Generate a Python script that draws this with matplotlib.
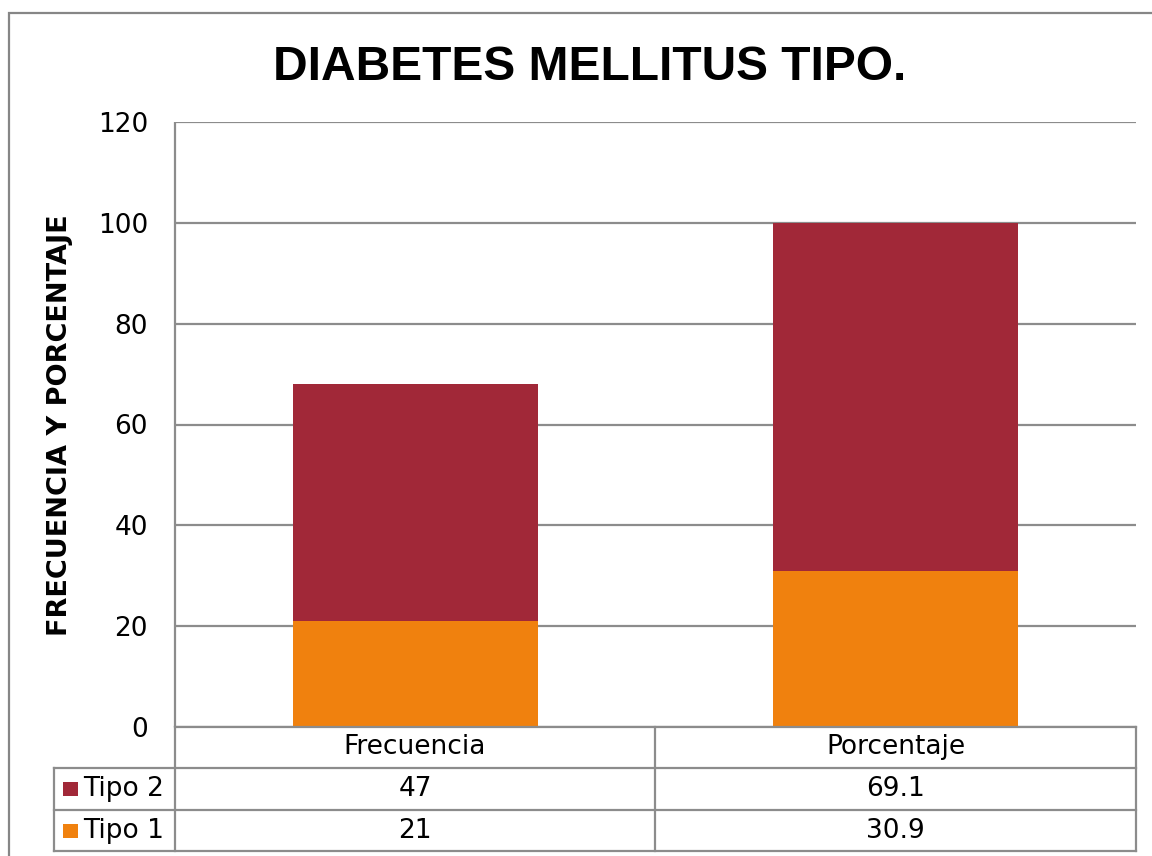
import matplotlib
matplotlib.use('Agg')
import matplotlib.pyplot as plt
from matplotlib.lines import Line2D
from matplotlib.patches import Rectangle

categories = ['Frecuencia', 'Porcentaje']
series_names = ['Tipo 1', 'Tipo 2']
tipo1 = [21, 30.9]
tipo2 = [47, 69.1]
yticks = [0, 20, 40, 60, 80, 100, 120]

c_tipo1 = '#F0810E'
c_tipo2 = '#A12838'
grid_c = '#8C8C8C'

W, H = 1152, 856
fig = plt.figure(figsize=(W / 100, H / 100), dpi=100)


def fx(px):
    return px / W


def fy(py):
    return 1 - py / H


def hline(y, x0, x1):
    fig.add_artist(Line2D([fx(x0), fx(x1)], [fy(y), fy(y)], color=grid_c, lw=1.6))


def vline(x, y0, y1):
    fig.add_artist(Line2D([fx(x), fx(x)], [fy(y0), fy(y1)], color=grid_c, lw=1.6))


# outer chart border (left and top visible only)
fig.add_artist(Rectangle((fx(9), fy(900)), fx(1200), fy(13) - fy(900),
                         fill=False, ec='#868686', lw=1.6))

# plot area
left, right, top, bottom = 175, 1136, 122, 727
ax = fig.add_axes([fx(left), fy(bottom), fx(right - left), fy(top) - fy(bottom)])
x = range(len(categories))
ax.bar(x, tipo1, width=0.51, color=c_tipo1, zorder=3)
ax.bar(x, tipo2, width=0.51, bottom=tipo1, color=c_tipo2, zorder=3)
ax.set_xlim(-0.5, 1.5)
ax.set_ylim(0, 120)
ax.set_yticks(yticks)
ax.set_yticklabels([str(t) for t in yticks], fontsize=19)
ax.tick_params(axis='y', length=0, pad=19.5)
ax.set_xticks([])
ax.yaxis.grid(True, color=grid_c, lw=1.6, zorder=0)
for s in ['top', 'right', 'bottom']:
    ax.spines[s].set_visible(False)
ax.spines['left'].set_color(grid_c)
ax.spines['left'].set_linewidth(1.6)
ax.spines['left'].set_capstyle('butt')

ax.set_ylabel('FRECUENCIA Y PORCENTAJE', fontsize=19.5, fontweight='bold')
ax.yaxis.set_label_coords((73 - left) / (right - left), (bottom - 425) / (bottom - top))

fig.text(0.512, fy(68), 'DIABETES MELLITUS TIPO.', ha='center', va='center',
         fontsize=34.5, fontweight='bold', family='Liberation Sans')

# data table
row_y = [727, 768, 810, 851]
col_x = [left, 655, right]
hline(row_y[0], left, right)
for yy in row_y[1:]:
    hline(yy, 54, right)
vline(left, bottom, row_y[-1])
for xx in col_x[1:]:
    vline(xx, row_y[0], row_y[-1])
vline(54, row_y[1], row_y[-1])

for i, cat in enumerate(categories):
    cx = (col_x[i] + col_x[i + 1]) / 2
    fig.text(fx(cx), fy((row_y[0] + row_y[1]) / 2), cat, ha='center', va='center', fontsize=19)

rows = [('Tipo 2', tipo2, c_tipo2), ('Tipo 1', tipo1, c_tipo1)]
for r, (name, vals, col) in enumerate(rows):
    cy = (row_y[r + 1] + row_y[r + 2]) / 2
    fig.add_artist(Rectangle((fx(63), fy(cy + 7)), fx(15), fy(cy - 7) - fy(cy + 7),
                             color=col, lw=0))
    fig.text(fx(83), fy(cy), name, ha='left', va='center', fontsize=19)
    for i, v in enumerate(vals):
        cx = (col_x[i] + col_x[i + 1]) / 2
        fig.text(fx(cx), fy(cy), f'{v:g}', ha='center', va='center', fontsize=19)

fig.savefig('out.png', dpi=100)
